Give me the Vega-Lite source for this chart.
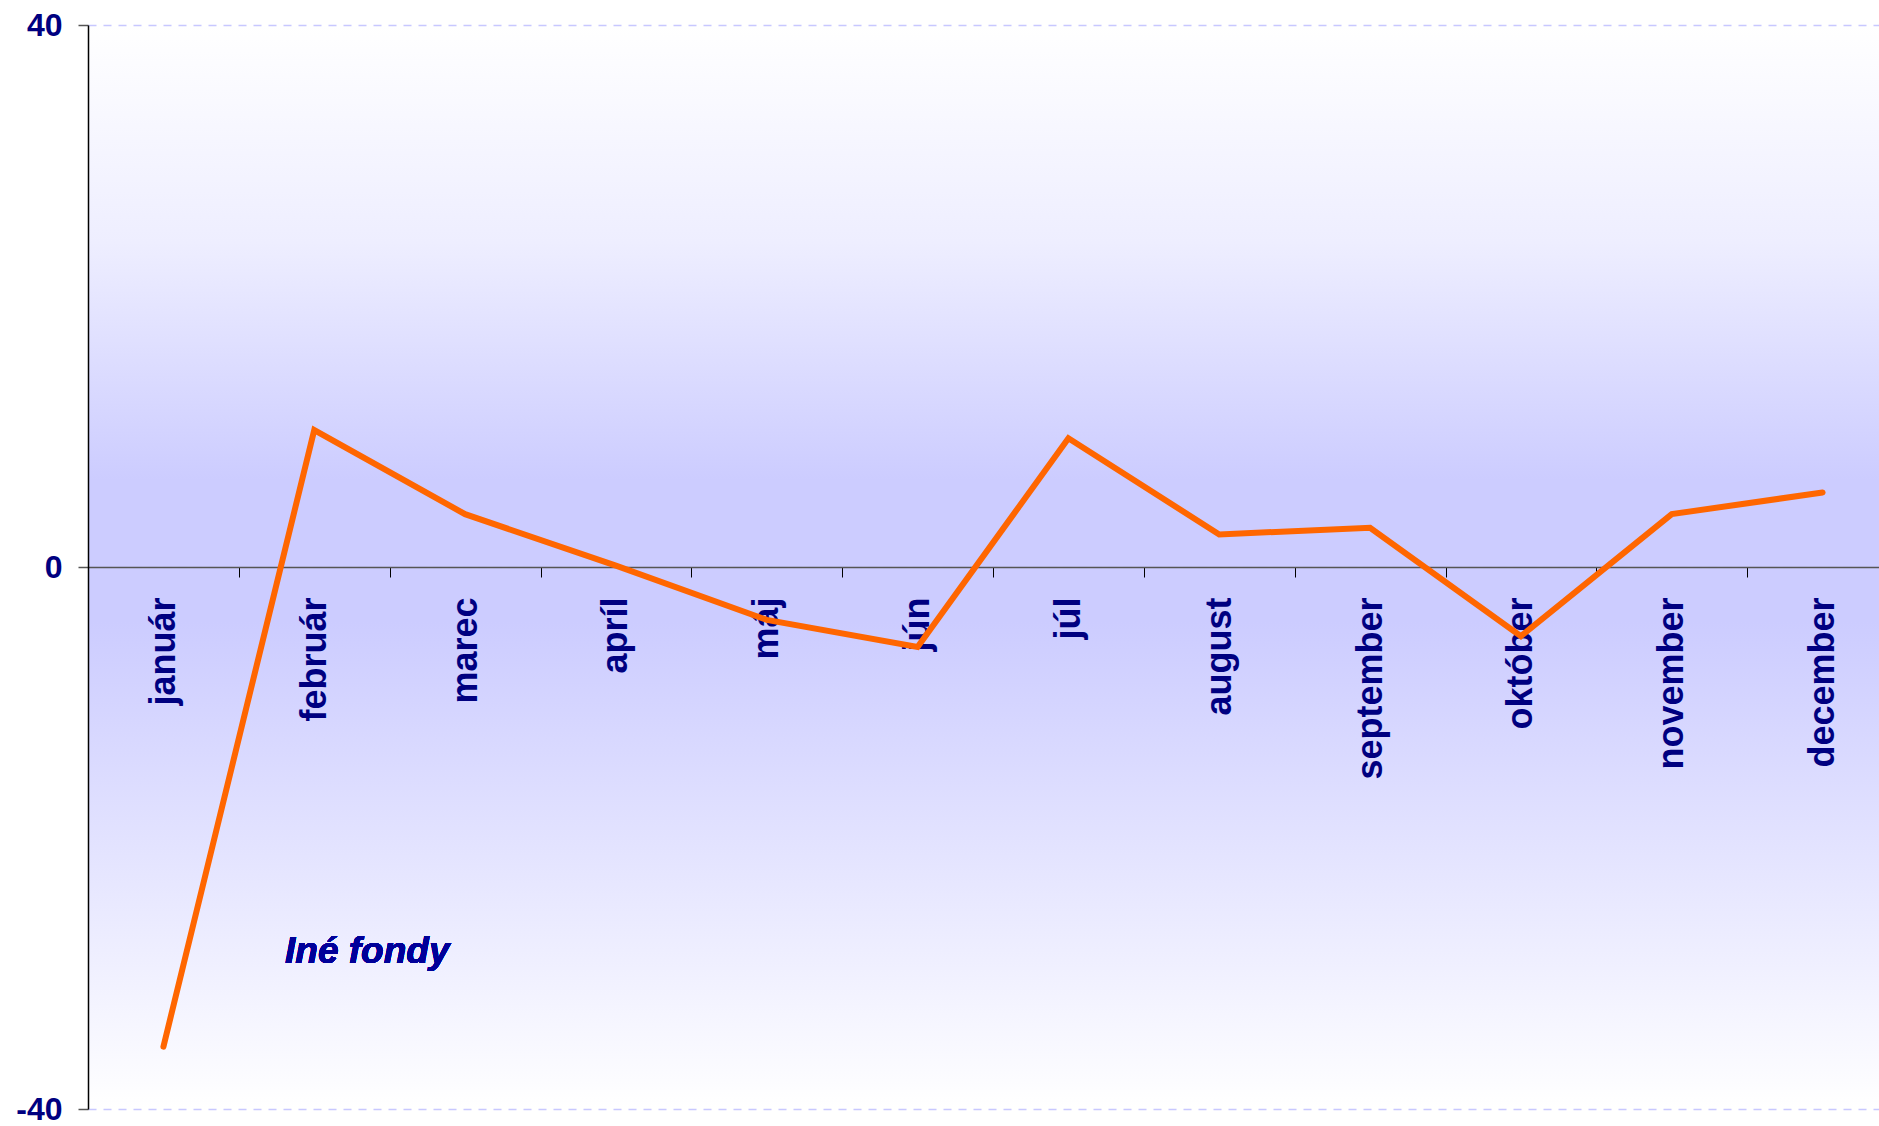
{
  "$schema": "https://vega.github.io/schema/vega-lite/v6.json",
  "width": 1810,
  "height": 1084,
  "autosize": {"type": "none"},
  "padding": {"left": 88, "top": 25, "right": 0, "bottom": 17},
  "background": "#FFFFFF",
  "config": {
    "font": "Liberation Sans",
    "view": {
      "stroke": null,
      "fill": {
        "gradient": "linear",
        "x1": 0, "y1": 0, "x2": 0, "y2": 1,
        "stops": [
          {"offset": 0, "color": "#FFFFFF"},
          {"offset": 0.2, "color": "#EEEEFF"},
          {"offset": 0.42, "color": "#CCCCFF"},
          {"offset": 0.55, "color": "#CCCCFF"},
          {"offset": 0.75, "color": "#E2E2FF"},
          {"offset": 1, "color": "#FFFFFF"}
        ]
      }
    }
  },
  "data": {
    "values": [
      {"month": "január", "value": -35.4},
      {"month": "február", "value": 10.1},
      {"month": "marec", "value": 3.9},
      {"month": "apríl", "value": 0.1},
      {"month": "máj", "value": -3.9},
      {"month": "jún", "value": -5.9},
      {"month": "júl", "value": 9.5},
      {"month": "august", "value": 2.4},
      {"month": "september", "value": 2.9},
      {"month": "október", "value": -5.1},
      {"month": "november", "value": 3.9},
      {"month": "december", "value": 5.5}
    ]
  },
  "layer": [
    {
      "mark": {"type": "line", "color": "#FF6600", "strokeWidth": 6, "strokeCap": "round", "strokeJoin": "miter"},
      "encoding": {
        "x": {
          "field": "month",
          "type": "nominal",
          "sort": null,
          "scale": {"paddingInner": 0, "paddingOuter": 0},
          "axis": {
            "title": null,
            "offset": -542,
            "tickBand": "extent",
            "domainColor": "#555555",
            "domainWidth": 1.5,
            "tickColor": "#000000",
            "tickSize": 10,
            "labelAngle": -90,
            "labelAlign": "right",
            "labelBaseline": "middle",
            "labelPadding": 20,
            "labelFont": "Liberation Sans",
            "labelFontSize": 36,
            "labelFontWeight": "bold",
            "labelColor": "#000080",
            "labelOverlap": false,
            "labelBound": false,
            "labelLimit": 0,
            "grid": false,
            "zindex": 0
          }
        },
        "y": {
          "field": "value",
          "type": "quantitative",
          "scale": {"domain": [-40, 40], "nice": false, "zero": false},
          "axis": {
            "title": null,
            "values": [-40, 0, 40],
            "labelExpr": "'' + datum.value",
            "grid": true,
            "gridColor": "#C8C8FF",
            "gridDash": [8, 7],
            "gridWidth": 1.5,
            "domainColor": "#000000",
            "domainWidth": 1.5,
            "tickColor": "#555555",
            "tickSize": 10,
            "tickWidth": 1.5,
            "labelPadding": 16,
            "labelFont": "Liberation Sans",
            "labelFontSize": 32,
            "labelFontWeight": "bold",
            "labelColor": "#000080",
            "labelFlush": false,
            "labelBaseline": "middle",
            "zindex": 0
          }
        }
      }
    },
    {
      "mark": {"type": "text", "text": "Iné fondy", "font": "Liberation Sans", "fontSize": 37, "fontWeight": "bold", "fontStyle": "italic", "color": "#000099", "align": "center", "baseline": "middle", "dx": 53},
      "encoding": {
        "x": {"datum": "február", "type": "nominal"},
        "y": {"datum": -28.4, "type": "quantitative"}
      }
    }
  ]
}
